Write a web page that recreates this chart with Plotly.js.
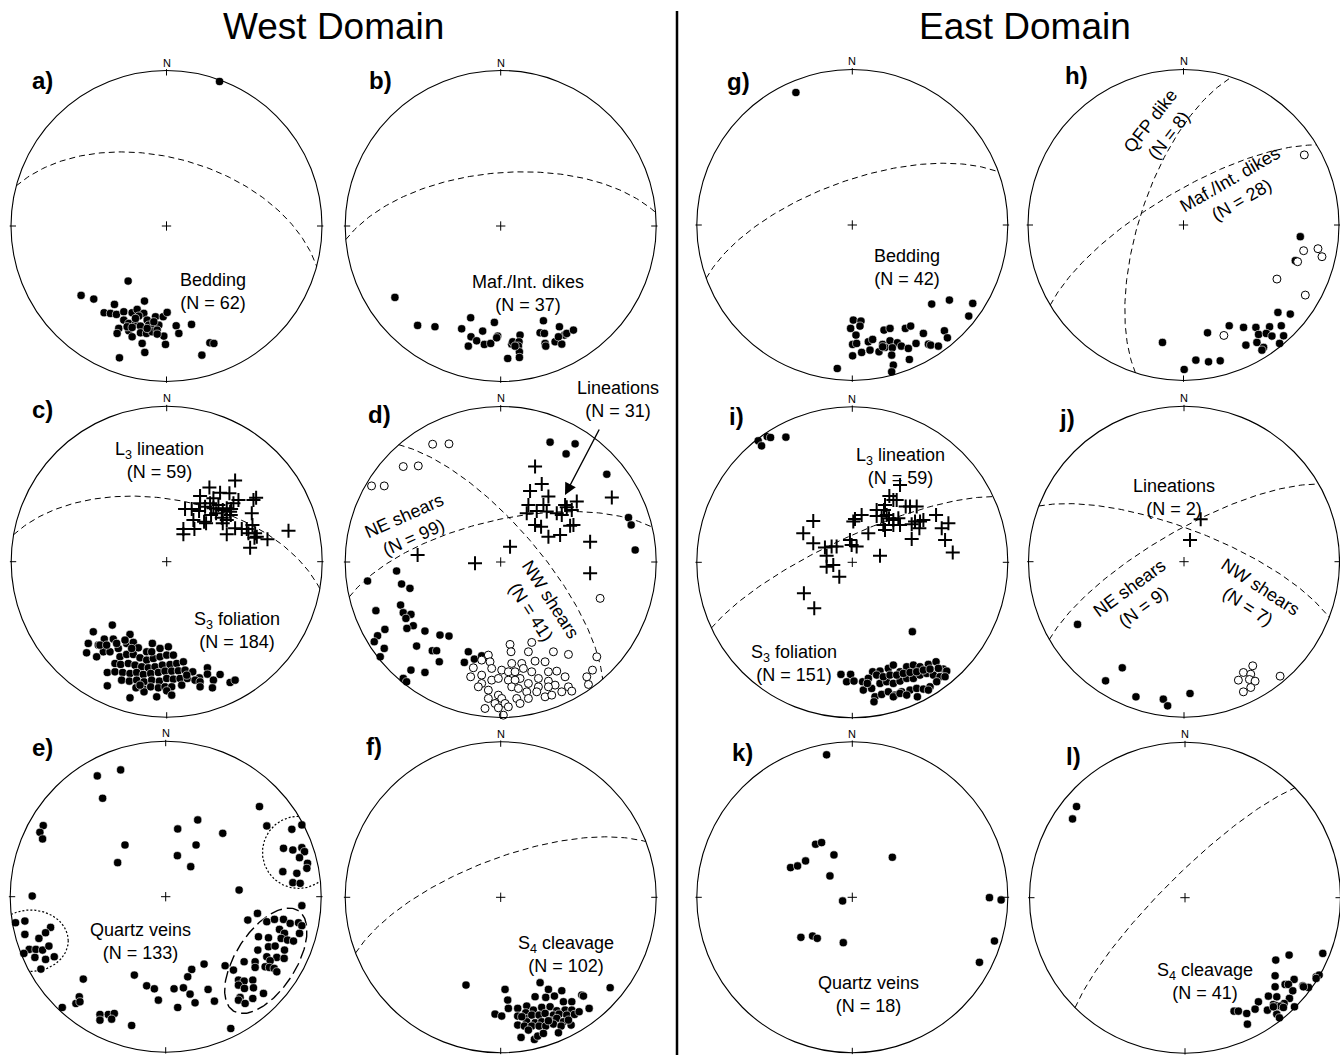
<!DOCTYPE html>
<html><head><meta charset="utf-8">
<script src="https://cdn.plot.ly/plotly-3.0.1.min.js"></script>
<style>html,body{margin:0;padding:0;background:#fff}#plot{width:1340px;height:1055px}</style>
</head><body><div id="plot"></div>
<script>
// ---------- DATA (net-local coordinates, primitive radius = 466 units, x east, y north) ----------
const NET_RADIUS = 466;
const a_bedding = [[159,433],[-115,-165],[-256,-208],[-218,-219],[-66,-225],[-156,-235],[-187,-260],[-168,-262],[-150,-265],[-128,-257],[-103,-260],[-88,-250],[-68,-262],[-83,-270],[-58,-282],[-33,-272],[-10,-272],[2,-259],[-128,-282],[-113,-292],[-93,-294],[-78,-300],[-53,-297],[-38,-304],[-23,-297],[-143,-307],[-148,-322],[-113,-314],[-103,-332],[-78,-320],[-60,-322],[-43,-317],[-28,-312],[-8,-330],[29,-299],[75,-295],[37,-322],[-73,-352],[-3,-355],[130,-350],[142,-352],[-65,-379],[-141,-395],[106,-387],[-58,-307],[-93,-277],[-118,-302],[-38,-287],[-103,-304],[-28,-324]];
const b_dikes = [[-317,-214],[-249,-298],[-197,-302],[-117,-308],[-90,-275],[-89,-332],[-97,-360],[-72,-344],[-54,-315],[-49,-355],[-30,-352],[-19,-289],[-9,-330],[-12,-335],[33,-354],[36,-347],[58,-327],[55,-347],[53,-360],[56,-377],[21,-397],[56,-394],[128,-284],[118,-320],[131,-322],[133,-352],[135,-360],[163,-347],[176,-302],[183,-354],[191,-327],[198,-322],[218,-312],[173,-332],[43,-360]];
const g_bedding = [[-169,397],[238,-237],[291,-225],[361,-235],[349,-273],[3,-285],[26,-288],[-5,-310],[23,-303],[11,-330],[95,-315],[113,-310],[159,-310],[175,-303],[1,-358],[13,-355],[48,-350],[61,-343],[91,-358],[113,-347],[135,-353],[147,-363],[168,-370],[191,-355],[213,-325],[228,-357],[235,-360],[258,-363],[276,-317],[285,-338],[1,-392],[28,-382],[53,-375],[80,-380],[98,-367],[120,-368],[118,-390],[171,-403],[123,-420],[118,-440],[-45,-430],[91,-365]];
const h_mafic = [[350,-35],[335,-107],[283,-262],[320,-267],[137,-302],[180,-307],[217,-307],[258,-305],[293,-302],[72,-323],[225,-328],[248,-325],[265,-333],[300,-332],[220,-352],[187,-360],[240,-367],[288,-355],[-63,-352],[37,-405],[75,-410],[110,-407],[2,-433],[235,-375]];
const h_qfp = [[362,210],[342,-110],[360,-77],[403,-71],[415,-95],[280,-162],[365,-210],[121,-331]];
const c_lineation = [[205,243],[100,197],[128,222],[160,207],[188,205],[268,192],[260,185],[55,158],[75,158],[97,152],[115,165],[130,175],[140,160],[155,170],[168,155],[180,160],[193,158],[200,175],[215,185],[255,145],[80,125],[112,120],[133,140],[148,145],[165,132],[180,125],[190,150],[168,115],[50,98],[83,98],[118,115],[205,100],[225,98],[240,98],[257,110],[245,85],[265,85],[270,75],[180,82],[50,82],[302,67],[365,93],[250,42],[263,72],[192,140],[140,190],[100,175]];
const c_foliation = [[-163,-190],[-220,-210],[-187,-232],[-160,-232],[-110,-218],[-235,-245],[-205,-250],[-190,-270],[-210,-285],[-170,-270],[-145,-260],[-120,-245],[-100,-242],[-85,-258],[-60,-270],[-43,-245],[-20,-260],[5,-255],[-140,-285],[-120,-278],[-100,-278],[-80,-288],[-60,-295],[-40,-290],[-20,-285],[0,-280],[20,-280],[-155,-305],[-138,-308],[-115,-305],[-95,-310],[-75,-315],[-55,-318],[-35,-315],[-13,-310],[10,-308],[30,-305],[50,-300],[-178,-332],[-155,-330],[-132,-332],[-110,-335],[-90,-332],[-70,-338],[-48,-335],[-25,-332],[-5,-328],[15,-328],[35,-327],[55,-325],[78,-330],[98,-348],[122,-318],[122,-337],[-135,-355],[-112,-358],[-90,-355],[-68,-360],[-45,-355],[-22,-358],[0,-350],[20,-352],[40,-350],[62,-350],[85,-355],[100,-360],[140,-355],[160,-338],[190,-362],[205,-355],[-178,-372],[-92,-378],[-70,-382],[-48,-375],[-25,-378],[-5,-375],[15,-375],[100,-375],[137,-378],[-68,-390],[-30,-405],[0,-387],[15,-400],[-110,-408],[-240,-273],[-200,-250],[-180,-250],[-150,-245],[-125,-235],[-105,-260],[-45,-270],[60,-340],[45,-370],[-80,-370]];
const d_lineations = [[103,286],[123,234],[88,213],[143,196],[78,146],[108,153],[128,171],[138,151],[168,146],[183,141],[198,164],[213,156],[228,181],[103,111],[121,106],[143,76],[178,81],[208,109],[218,111],[268,61],[268,-34],[333,193],[28,46],[-77,-4],[-249,21],[193,171],[83,171]];
const d_nwShears = [[148,359],[223,354],[196,324],[318,263],[383,133],[391,111],[403,36],[-399,-57],[-312,-27],[-297,-66],[-272,-79],[-374,-146],[-300,-129],[-292,-152],[-269,-157],[-284,-169],[-262,-191],[-281,-199],[-347,-202],[-369,-221],[-379,-239],[-349,-259],[-227,-207],[-182,-219],[-155,-222],[-252,-252],[-205,-266],[-192,-266],[-361,-284],[-184,-299],[-269,-324],[-227,-331],[-292,-349],[-282,-359],[-97,-269],[-109,-301],[-79,-291],[-57,-281]];
const d_neShears = [[-204,353],[-155,354],[-292,286],[-247,288],[-387,228],[-349,228],[298,-109],[288,-284],[275,-324],[258,-344],[263,-367],[28,-247],[93,-241],[31,-269],[83,-269],[103,-297],[133,-299],[158,-269],[203,-277],[-37,-279],[-57,-294],[-32,-299],[-82,-317],[-90,-344],[-57,-339],[-27,-319],[3,-324],[33,-304],[63,-304],[68,-319],[23,-329],[43,-329],[58,-349],[93,-329],[113,-349],[143,-329],[168,-327],[193,-344],[-57,-364],[-27,-354],[-7,-349],[23,-354],[43,-354],[83,-364],[113,-374],[143,-357],[163,-369],[203,-374],[213,-387],[-67,-374],[-37,-384],[-37,-409],[-7,-399],[3,-409],[33,-374],[53,-379],[78,-389],[108,-389],[133,-404],[153,-399],[183,-389],[-17,-424],[13,-424],[48,-409],[58,-424],[-47,-439],[-7,-437],[23,-434],[8,-459],[83,-409],[143,-374]];
const i_lineation = [[143,232],[111,199],[123,187],[133,187],[98,172],[160,167],[173,167],[193,167],[73,139],[88,139],[103,142],[95,157],[110,132],[123,127],[138,132],[143,112],[28,142],[8,130],[3,122],[93,112],[98,97],[123,112],[178,114],[188,122],[203,122],[213,127],[201,102],[251,142],[288,117],[268,102],[278,67],[301,29],[178,70],[83,20],[48,87],[-7,67],[-2,52],[13,47],[-117,124],[-147,87],[-117,57],[-82,44],[-62,47],[-47,47],[-77,20],[-77,-13],[-57,-8],[-39,-43],[-145,-93],[-114,-138],[73,157]];
const i_foliation = [[-282,364],[-272,349],[-255,377],[-245,374],[-199,375],[180,-208],[-34,-336],[-5,-336],[-17,-358],[5,-356],[31,-358],[61,-328],[83,-326],[108,-318],[123,-308],[143,-328],[163,-313],[183,-308],[203,-313],[228,-306],[251,-298],[273,-320],[283,-326],[33,-383],[58,-378],[83,-363],[103,-358],[123,-363],[143,-356],[163,-348],[183,-348],[203,-338],[223,-333],[243,-338],[263,-343],[68,-403],[88,-396],[108,-388],[128,-398],[148,-388],[173,-383],[193,-378],[213,-380],[233,-373],[253,-358],[65,-418],[123,-403],[143,-393],[163,-398],[195,-403],[228,-383],[73,-338],[93,-343],[113,-338],[133,-338],[153,-333],[173,-330],[193,-328],[213,-323],[233,-320],[258,-318],[48,-348],[278,-343],[45,-363]];
const j_lineations = [[50,127],[18,65]];
const j_neShears = [[-319,-188],[-185,-318],[-235,-357],[-144,-405],[-62,-412],[-49,-432],[18,-395]];
const j_nwShears = [[206,-312],[178,-332],[200,-337],[163,-355],[196,-353],[213,-358],[178,-390],[200,-377],[288,-343]];
const e_veins = [[-205,362],[-135,380],[-189,295],[-367,213],[-377,193],[-369,173],[-122,155],[-144,102],[36,203],[96,230],[91,155],[35,123],[75,90],[171,190],[281,270],[303,212],[378,202],[408,215],[353,145],[381,140],[408,147],[416,135],[401,117],[425,100],[423,85],[351,75],[393,70],[381,42],[403,40],[220,20],[-400,2],[-450,-78],[-422,-73],[-345,-92],[-360,-108],[-380,-125],[-422,-113],[-409,-158],[-425,-170],[-389,-158],[-369,-160],[-350,-148],[-392,-182],[-360,-188],[-334,-180],[-374,-217],[408,-27],[275,-50],[246,-70],[303,-75],[326,-68],[353,-68],[373,-80],[398,-78],[408,-87],[341,-98],[356,-110],[278,-120],[308,-123],[346,-125],[365,-130],[383,-133],[401,-110],[276,-160],[308,-150],[328,-148],[356,-160],[303,-180],[333,-182],[313,-192],[355,-185],[268,-195],[235,-195],[203,-220],[268,-212],[298,-210],[311,-212],[325,-215],[333,-225],[218,-250],[235,-253],[218,-265],[261,-250],[263,-273],[236,-275],[223,-302],[218,-310],[238,-320],[261,-305],[293,-290],[178,-207],[-247,-247],[-94,-235],[-57,-267],[-34,-276],[78,-218],[66,-240],[115,-202],[25,-276],[53,-273],[73,-292],[88,-318],[-22,-310],[127,-278],[146,-313],[36,-332],[-102,-386],[-310,-332],[-269,-320],[-259,-300],[-257,-315],[-197,-353],[-172,-353],[-154,-350],[-162,-367],[-197,-370],[195,-395]];
const f_cleavage = [[-104,-263],[328,-271],[13,-276],[21,-308],[118,-256],[143,-276],[183,-280],[243,-293],[248,-296],[23,-333],[51,-333],[78,-326],[103,-298],[135,-300],[161,-296],[188,-313],[213,-313],[75,-346],[98,-338],[123,-330],[148,-328],[168,-340],[193,-338],[213,-338],[265,-333],[-17,-350],[3,-356],[51,-356],[75,-363],[93,-353],[115,-353],[133,-348],[158,-353],[175,-350],[198,-353],[221,-351],[235,-343],[78,-373],[103,-376],[123,-373],[148,-370],[168,-363],[188,-373],[51,-383],[71,-386],[93,-386],[115,-386],[135,-386],[158,-380],[181,-386],[211,-383],[61,-420],[101,-426],[111,-416],[128,-408],[173,-406],[143,-370],[83,-398],[63,-358],[203,-368]];
const k_veins = [[-77,427],[-110,159],[-92,164],[-55,127],[-185,89],[-164,94],[-140,109],[-67,64],[120,120],[-29,-11],[411,-1],[446,-8],[426,-131],[381,-195],[-154,-120],[-119,-116],[-105,-123],[-27,-136]];
const l_cleavage = [[-325,273],[-337,236],[413,-167],[312,-172],[272,-187],[393,-237],[402,-232],[270,-234],[327,-245],[300,-260],[310,-260],[270,-267],[353,-264],[370,-269],[323,-279],[250,-295],[275,-297],[313,-302],[297,-317],[265,-320],[275,-324],[287,-325],[328,-327],[247,-337],[220,-312],[210,-334],[185,-347],[147,-340],[160,-340],[275,-349],[283,-360],[187,-379],[393,-242],[355,-267],[265,-327],[295,-329]];
// great circles: [dip direction, dip] in degrees
const a_planes = [[15,54]];
const b_planes = [[355,62]];
const g_planes = [[340,67]];
const h_planes = [[288,67],[329,73]];
const c_planes = [[10,57]];
const d_planes = [[347,68],[49,71]];
const i_planes = [[335,77]];
const j_planes = [[330,74],[21,73]];
const f_planes = [[339,70]];
const l_planes = [[315,79]];
// e) cluster outlines: [centre x, centre y, semi-axis a, semi-axis b, rotation deg, style]
const e_outlines = [[398,133,108,108,0,'dot'],[-405,-132,113,92,0,'dot'],[300,-192,179,90,57,'long']];

// ---------- LAYOUT ----------
const W = 1340, H = 1055, RPX = 155.5, BOX = 165;
const K = NET_RADIUS / RPX;
const FONT = 'Liberation Sans, Arial, Helvetica, sans-serif';
const nets = [
  {key:'a', cx:166.5, cy:226,   label:'a)', lx:42,   ly:80,  pts:[[a_bedding,'dot']], gc:a_planes},
  {key:'b', cx:500.7, cy:226,   label:'b)', lx:380,  ly:80,  pts:[[b_dikes,'dot']], gc:b_planes},
  {key:'g', cx:852.3, cy:225,   label:'g)', lx:738,  ly:81,  pts:[[g_bedding,'dot']], gc:g_planes},
  {key:'h', cx:1183.5,cy:225,   label:'h)', lx:1076, ly:76,  pts:[[h_mafic,'dot'],[h_qfp,'open']], gc:h_planes},
  {key:'c', cx:166.7, cy:561.7, label:'c)', lx:42,   ly:409, pts:[[c_foliation,'dot'],[c_lineation,'plus']], gc:c_planes},
  {key:'d', cx:500.7, cy:562,   label:'d)', lx:379,  ly:415, pts:[[d_nwShears,'dot'],[d_neShears,'open'],[d_lineations,'plus']], gc:d_planes},
  {key:'i', cx:852.3, cy:562.3, label:'i)', lx:736,  ly:416, pts:[[i_foliation,'dot'],[i_lineation,'plus']], gc:i_planes},
  {key:'j', cx:1184,  cy:561.7, label:'j)', lx:1067, ly:418, pts:[[j_neShears,'dot'],[j_nwShears,'open'],[j_lineations,'plus']], gc:j_planes},
  {key:'e', cx:165.7, cy:896.7, label:'e)', lx:42,   ly:747, pts:[[e_veins,'dot']], gc:[]},
  {key:'f', cx:500.7, cy:897.3, label:'f)', lx:374,  ly:746, pts:[[f_cleavage,'dot']], gc:f_planes},
  {key:'k', cx:852.3, cy:897.3, label:'k)', lx:742,  ly:752, pts:[[k_veins,'dot']], gc:[]},
  {key:'l', cx:1185,  cy:897.7, label:'l)', lx:1073, ly:756, pts:[[l_cleavage,'dot']], gc:l_planes}
];
const P = (px, py) => ({x: px / W, y: 1 - py / H});

function greatCircle(dd, dip) {
  const r = Math.PI / 180, xs = [], ys = [];
  const st = (dd - 90) * r, d = dd * r, dp = dip * r;
  const s = [Math.sin(st), Math.cos(st), 0];
  const v = [Math.sin(d) * Math.cos(dp), Math.cos(d) * Math.cos(dp), Math.sin(dp)];
  for (let a = 0; a <= 180; a += 1.5) {
    const ca = Math.cos(a * r), sa = Math.sin(a * r);
    const e = ca * s[0] + sa * v[0], n = ca * s[1] + sa * v[1], z = ca * s[2] + sa * v[2];
    const pl = Math.asin(Math.min(1, z)), tr = Math.atan2(e, n);
    const rr = NET_RADIUS * Math.SQRT2 * Math.sin((Math.PI / 2 - pl) / 2);
    xs.push(rr * Math.sin(tr)); ys.push(rr * Math.cos(tr));
  }
  return {xs, ys};
}
function outline(cx, cy, a, b, rot) {
  const xs = [], ys = [], t = rot * Math.PI / 180;
  for (let k = 0; k <= 360; k += 2) {
    const u = k * Math.PI / 180;
    const px = a * Math.cos(u), py = b * Math.sin(u);
    const x = cx + px * Math.cos(t) - py * Math.sin(t);
    const y = cy + px * Math.sin(t) + py * Math.cos(t);
    if (Math.hypot(x, y) <= NET_RADIUS) { xs.push(x); ys.push(y); } else { xs.push(null); ys.push(null); }
  }
  return {xs, ys};
}

const layout = {
  width: W, height: H, margin: {l:0, r:0, t:0, b:0},
  paper_bgcolor: '#ffffff', plot_bgcolor: 'rgba(0,0,0,0)',
  showlegend: false, hovermode: false,
  font: {family: FONT, color: '#000'},
  shapes: [], annotations: []
};
const traces = [];
const R = NET_RADIUS;

nets.forEach((n, idx) => {
  const s = idx === 0 ? '' : String(idx + 1);
  const xr = 'x' + s, yr = 'y' + s;
  const x0 = Math.max(0, n.cx - BOX), x1 = Math.min(W, n.cx + BOX);
  const yt = Math.max(0, n.cy - BOX), yb = Math.min(H, n.cy + BOX);
  layout['xaxis' + s] = {domain: [x0 / W, x1 / W], range: [(x0 - n.cx) * K, (x1 - n.cx) * K], visible: false, fixedrange: true, anchor: yr};
  layout['yaxis' + s] = {domain: [1 - yb / H, 1 - yt / H], range: [(n.cy - yb) * K, (n.cy - yt) * K], visible: false, fixedrange: true, anchor: xr};
  const ln = {color: '#000', width: 1};
  layout.shapes.push({type: 'circle', xref: xr, yref: yr, x0: -R, x1: R, y0: -R, y1: R, line: {color: '#000', width: 1.1}});
  // cardinal ticks
  layout.shapes.push({type:'line', xref:xr, yref:yr, x0:0, x1:0, y0:R-15, y1:R+4, line:ln});
  layout.shapes.push({type:'line', xref:xr, yref:yr, x0:0, x1:0, y0:-R+15, y1:-R-4, line:ln});
  layout.shapes.push({type:'line', xref:xr, yref:yr, y0:0, y1:0, x0:R-15, x1:R+4, line:ln});
  layout.shapes.push({type:'line', xref:xr, yref:yr, y0:0, y1:0, x0:-R+15, x1:-R-4, line:ln});
  // centre cross
  layout.shapes.push({type:'line', xref:xr, yref:yr, x0:-14, x1:14, y0:0, y1:0, line:ln});
  layout.shapes.push({type:'line', xref:xr, yref:yr, x0:0, x1:0, y0:-14, y1:14, line:ln});
  // great circles
  n.gc.forEach(p => {
    const g = greatCircle(p[0], p[1]);
    traces.push({type:'scatter', mode:'lines', x:g.xs, y:g.ys, xaxis:xr, yaxis:yr,
      line:{color:'#000', width:1, dash:'6px,4px'}, hoverinfo:'skip'});
  });
  if (n.key === 'e') {
    e_outlines.forEach(o => {
      const g = outline(o[0], o[1], o[2], o[3], o[4]);
      traces.push({type:'scatter', mode:'lines', x:g.xs, y:g.ys, xaxis:xr, yaxis:yr, connectgaps:false,
        line:{color:'#000', width: o[5] === 'dot' ? 1.2 : 1.4, dash: o[5] === 'dot' ? '2px,2px' : '12px,5px'}, hoverinfo:'skip'});
    });
  }
  // points
  n.pts.forEach(([arr, kind]) => {
    const xs = arr.map(p => p[0]), ys = arr.map(p => p[1]);
    let marker;
    if (kind === 'dot') marker = {symbol:'circle', size:8.2, color:'#000', line:{color:'#fff', width:0.6}};
    else if (kind === 'open') marker = {symbol:'circle', size:8, color:'#fff', line:{color:'#000', width:1}};
    else marker = {symbol:'cross-thin', size:10, color:'#000', line:{color:'#000', width:2}};
    traces.push({type:'scatter', mode:'markers', x:xs, y:ys, xaxis:xr, yaxis:yr, marker, cliponaxis:false, hoverinfo:'skip'});
  });
  // N label and panel label
  const pn = P(n.cx, n.cy - RPX - 8);
  layout.annotations.push({xref:'paper', yref:'paper', x:pn.x, y:pn.y, text:'N', showarrow:false, xanchor:'center', yanchor:'middle', font:{size:11, family:FONT}});
  const pl = P(n.lx, n.ly);
  layout.annotations.push({xref:'paper', yref:'paper', x:pl.x, y:pl.y, text:n.label, showarrow:false, xanchor:'center', yanchor:'middle', font:{size:24, family:FONT, weight:'bold'}});
});

// text labels [px, py, text, angle]
const labels = [
  [213, 291, 'Bedding<br>(N = 62)', 0],
  [528, 293, 'Maf./Int. dikes<br>(N = 37)', 0],
  [907, 267, 'Bedding<br>(N = 42)', 0],
  [1159, 128, 'QFP dike<br>(N = 8)', -52],
  [1236, 190, 'Maf./Int. dikes<br>(N = 28)', -30],
  [159, 461, 'L<sub>3</sub> lineation<br>(N = 59)', 0],
  [237, 630, 'S<sub>3</sub> foliation<br>(N = 184)', 0],
  [618, 400, 'Lineations<br>(N = 31)', 0],
  [409, 527, 'NE shears<br>(N = 99)', -24],
  [541, 605, 'NW shears<br>(N = 41)', 57],
  [900, 466, 'L<sub>3</sub> lineation<br>(N = 59)', 0],
  [794, 663, 'S<sub>3</sub> foliation<br>(N = 151)', 0],
  [1174, 497, 'Lineations<br>(N = 2)', 0],
  [1136, 597, 'NE shears<br>(N = 9)', -36],
  [1254, 596, 'NW shears<br>(N = 7)', 33],
  [140, 941, 'Quartz veins<br>(N = 133)', 0],
  [566, 954, 'S<sub>4</sub> cleavage<br>(N = 102)', 0],
  [868, 994, 'Quartz veins<br>(N = 18)', 0],
  [1205, 981, 'S<sub>4</sub> cleavage<br>(N = 41)', 0]
];
labels.forEach(([px, py, t, ang]) => {
  const p = P(px, py);
  layout.annotations.push({xref:'paper', yref:'paper', x:p.x, y:p.y, text:t, showarrow:false, textangle:ang,
    xanchor:'center', yanchor:'middle', font:{size:18, family:FONT, color:'#000'}});
});
// arrow in d)
const tip = P(565, 495);
layout.annotations.push({xref:'paper', yref:'paper', x:tip.x, y:tip.y, text:'', showarrow:true, ax:35, ay:-67,
  arrowhead:2, arrowsize:1.7, arrowwidth:1.4, arrowcolor:'#000'});
// domain titles
[[333.5, 26, 'West Domain'], [1024.5, 26, 'East Domain']].forEach(([px, py, t]) => {
  const p = P(px, py);
  layout.annotations.push({xref:'paper', yref:'paper', x:p.x, y:p.y, text:t, showarrow:false, xanchor:'center', yanchor:'middle', font:{size:37, family:FONT, color:'#000'}});
});
// divider
layout.shapes.push({type:'line', xref:'paper', yref:'paper', x0:677/W, x1:677/W, y0:1 - 11/H, y1:0, line:{color:'#000', width:2.5}});

Plotly.newPlot('plot', traces, layout, {staticPlot:true, displayModeBar:false});
</script></body></html>
